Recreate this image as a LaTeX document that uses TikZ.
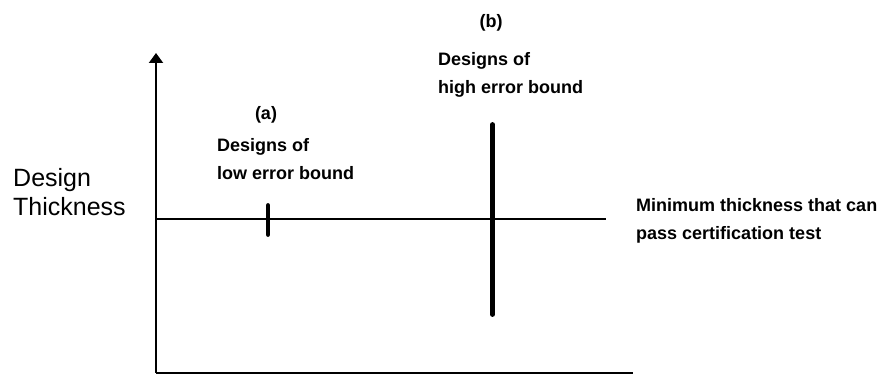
\documentclass[tikz,border=0pt]{standalone}
\usepackage{fontspec}
\setmainfont{Liberation Sans}
\usetikzlibrary{arrows.meta}
\begin{document}
\begin{tikzpicture}[x=1pt,y=-1pt,
  axis/.style={line width=2pt},
  errbar/.style={line width=4.8pt,line cap=round},
  lbl/.style={font=\fontsize{18}{28}\selectfont\bfseries,inner sep=0pt,align=left}]
  \useasboundingbox (0,0) rectangle (882,374);
  \coordinate (O) at (156,372.5); \coordinate (ytop) at (156,53); \coordinate (xend) at (633,372.5);
  \draw[axis,-{Triangle[width=14pt,length=10pt]}] (O) -- (ytop);
  \draw[axis] (O) -- (xend);
  \coordinate (m0) at (156,218.5); \coordinate (m1) at (606,218.5);
  \draw[axis] (m0) -- (m1);
  % error bars
  \coordinate (a0) at (268,205.5); \coordinate (a1) at (268,234.5);
  \draw[errbar] (a0) -- (a1);
  \coordinate (b0) at (492.5,124.5); \coordinate (b1) at (492.5,314.5);
  \draw[errbar] (b0) -- (b1);
  \node[font=\fontsize{25}{29}\selectfont,inner sep=0pt,align=left,anchor=north west] (ylbl) at (13,168) {Design\\Thickness};
  \node[lbl,anchor=base] (tagA) at (266,120) {(a)};
  \node[lbl,anchor=north west] (lowA) at (217,138) {Designs of\\low error bound};
  \node[lbl,anchor=base] (tagB) at (491,28) {(b)};
  \node[lbl,anchor=north west] (highB) at (438,52) {Designs of\\high error bound};
  \node[lbl,anchor=north west] (minT) at (636,198) {Minimum thickness that can\\pass certification test};
\end{tikzpicture}
\end{document}
